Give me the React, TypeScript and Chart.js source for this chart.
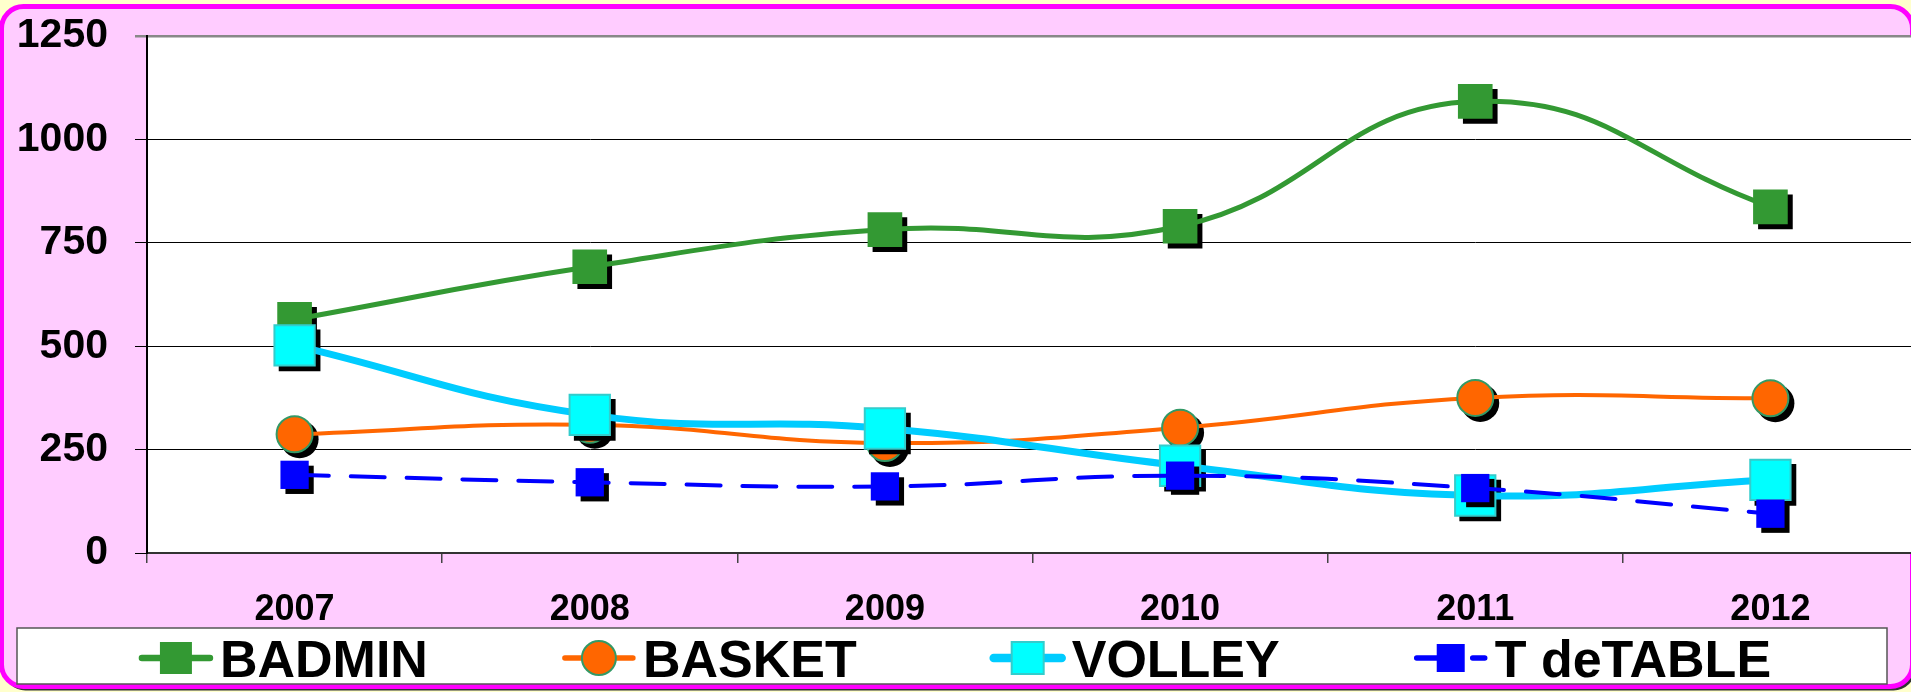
import React, { useEffect, useRef } from "react";
import { Chart, registerables } from "chart.js";

Chart.register(...registerables);

const categories = ["2007", "2008", "2009", "2010", "2011", "2012"];
const badmin = [565, 692, 782, 790, 1092, 837];
const basket = [287, 310, 266, 303, 375, 374];
const volley = [502, 334, 301, 211, 139, 177];
const tdetable = [189, 171, 161, 187, 157, 95];
const seriesLabels = ["BADMIN", "BASKET", "VOLLEY", "T deTABLE"];
const yMin = 0;
const yMax = 1250;
const yStep = 250;

const FONT = "'Liberation Sans', Arial, sans-serif";

function roundRect(ctx: CanvasRenderingContext2D, x: number, y: number, w: number, h: number, r: number) {
  ctx.beginPath();
  ctx.moveTo(x + r, y);
  ctx.lineTo(x + w - r, y);
  ctx.arcTo(x + w, y, x + w, y + r, r);
  ctx.lineTo(x + w, y + h - r);
  ctx.arcTo(x + w, y + h, x + w - r, y + h, r);
  ctx.lineTo(x + r, y + h);
  ctx.arcTo(x, y + h, x, y + h - r, r);
  ctx.lineTo(x, y + r);
  ctx.arcTo(x, y, x + r, y, r);
  ctx.closePath();
}

const backgroundPlugin = {
  id: "bgFrame",
  beforeDraw(chart: any) {
    const ctx = chart.ctx as CanvasRenderingContext2D;
    const { width, height, chartArea } = chart;
    ctx.save();
    ctx.fillStyle = "#FFFFCC";
    ctx.fillRect(0, 0, width, height);
    roundRect(ctx, 3.5, 8.5, 1912, 682, 22);
    ctx.fillStyle = "#333333";
    ctx.fill();
    roundRect(ctx, 1.5, 6.5, 1911, 680, 22);
    ctx.fillStyle = "#FFCCFF";
    ctx.fill();
    ctx.lineWidth = 5;
    ctx.strokeStyle = "#FF00FF";
    ctx.stroke();
    ctx.fillStyle = "#FFFFFF";
    ctx.fillRect(chartArea.left, chartArea.top, chartArea.right - chartArea.left, chartArea.bottom - chartArea.top);
    ctx.restore();
  },
};

function drawMarker(ctx: CanvasRenderingContext2D, style: string, x: number, y: number, r: number) {
  ctx.beginPath();
  if (style === "circle") {
    ctx.arc(x, y, r, 0, Math.PI * 2);
  } else {
    const s = Math.SQRT1_2 * r;
    ctx.rect(x - s, y - s, 2 * s, 2 * s);
  }
}

const shadowPlugin = {
  id: "markerShadow",
  beforeDatasetDraw(chart: any, args: any) {
    const ctx = chart.ctx as CanvasRenderingContext2D;
    const ds = chart.data.datasets[args.index];
    const meta = args.meta;
    ctx.save();
    ctx.fillStyle = "#000000";
    meta.data.forEach((pt: any) => {
      drawMarker(ctx, ds.pointStyle, pt.x + 5, pt.y + 5, ds.pointRadius + (ds.pointBorderWidth || 0) / 2);
      ctx.fill();
    });
    ctx.restore();
  },
};

const legendPlugin = {
  id: "customLegend",
  afterDraw(chart: any) {
    const ctx = chart.ctx as CanvasRenderingContext2D;
    const datasets = chart.data.datasets;
    ctx.save();
    ctx.fillStyle = "#FFFFFF";
    ctx.fillRect(17, 628, 1870, 56);
    ctx.lineWidth = 1.5;
    ctx.strokeStyle = "#555555";
    ctx.strokeRect(17, 628, 1870, 56);

    ctx.font = `bold 52px ${FONT}`;
    const graphicW = 74;
    const textGap = 7;
    const itemGap = 134;
    const widths = datasets.map((d: any) => ctx.measureText(d.label).width);
    const total =
      widths.reduce((a: number, b: number) => a + b, 0) + datasets.length * (graphicW + textGap) + (datasets.length - 1) * itemGap;
    let x = 955 - total / 2;
    const cy = 658;
    datasets.forEach((d: any, i: number) => {
      ctx.save();
      ctx.beginPath();
      ctx.strokeStyle = d.borderColor;
      ctx.lineWidth = d.borderWidth + 1.5;
      ctx.lineCap = "round";
      if (d.borderDash) ctx.setLineDash(d.borderDash);
      ctx.moveTo(x + 3, cy);
      ctx.lineTo(x + graphicW - 3, cy);
      ctx.stroke();
      ctx.restore();
      const mx = x + graphicW / 2;
      const r = d.legendMarkerSize / 2;
      ctx.beginPath();
      if (d.pointStyle === "circle") ctx.arc(mx, cy, r, 0, Math.PI * 2);
      else ctx.rect(mx - r, cy - r, 2 * r, 2 * r);
      ctx.fillStyle = d.pointBackgroundColor;
      ctx.fill();
      if (d.pointBorderWidth) {
        ctx.lineWidth = d.pointBorderWidth;
        ctx.strokeStyle = d.pointBorderColor;
        ctx.stroke();
      }
      ctx.fillStyle = "#000000";
      ctx.textAlign = "left";
      ctx.textBaseline = "alphabetic";
      ctx.fillText(d.label, x + graphicW + textGap, 677);
      x += graphicW + textGap + widths[i] + itemGap;
    });
    ctx.restore();
  },
};

export default function App() {
  const canvasRef = useRef<HTMLCanvasElement | null>(null);

  useEffect(() => {
    const canvas = canvasRef.current;
    if (!canvas) return;
    const chart = new Chart(canvas, {
      type: "line",
      data: {
        labels: categories,
        datasets: [
          {
            label: seriesLabels[0],
            data: badmin,
            borderColor: "#339933",
            borderWidth: 5,
            pointStyle: "rect",
            pointRadius: 24.5,
            pointBackgroundColor: "#339933",
            pointBorderColor: "#339933",
            pointBorderWidth: 0,
            tension: 0.45,
            order: 4,
            legendMarkerSize: 32,
          } as any,
          {
            label: seriesLabels[1],
            data: basket,
            borderColor: "#FF6600",
            borderWidth: 4,
            pointStyle: "circle",
            pointRadius: 18,
            pointBackgroundColor: "#FF6600",
            pointBorderColor: "#339966",
            pointBorderWidth: 2,
            tension: 0.45,
            order: 3,
            legendMarkerSize: 34,
          } as any,
          {
            label: seriesLabels[2],
            data: volley,
            borderColor: "#00CCFF",
            borderWidth: 7,
            pointStyle: "rect",
            pointRadius: 28.5,
            pointBackgroundColor: "#00FFFF",
            pointBorderColor: "#33CCCC",
            pointBorderWidth: 2,
            tension: 0.45,
            order: 2,
            legendMarkerSize: 32,
          } as any,
          {
            label: seriesLabels[3],
            data: tdetable,
            borderColor: "#0000FF",
            borderWidth: 4,
            borderDash: [34, 22],
            borderCapStyle: "round",
            pointStyle: "rect",
            pointRadius: 20,
            pointBackgroundColor: "#0000FF",
            pointBorderColor: "#0000FF",
            pointBorderWidth: 0,
            tension: 0.45,
            order: 1,
            legendMarkerSize: 28,
          } as any,
        ],
      },
      options: {
        responsive: false,
        animation: false,
        devicePixelRatio: 1,
        layout: { autoPadding: false, padding: { top: 36, left: 0, right: 0, bottom: 0 } },
        plugins: {
          legend: { display: false },
          tooltip: { enabled: false },
          title: { display: false },
        },
        scales: {
          x: {
            type: "category",
            offset: true,
            afterFit(scale: any) {
              scale.height = 692 - 553;
              scale.paddingLeft = 0;
              scale.paddingRight = 0;
            },
            grid: {
              offset: true,
              drawOnChartArea: false,
              drawTicks: true,
              tickLength: 10,
              color: "#444444",
              lineWidth: 1.5,
            },
            border: { display: true, color: "#333333", width: 2 },
            ticks: {
              color: "#000000",
              font: { family: FONT, size: 36, weight: "bold", lineHeight: 1 },
              padding: 29,
              maxRotation: 0,
              autoSkip: false,
            },
          },
          y: {
            min: yMin,
            max: yMax,
            afterFit(scale: any) {
              scale.width = 147;
              scale.paddingTop = 0;
              scale.paddingBottom = 0;
            },
            grid: {
              color: (c: any) => (c.tick && c.tick.value === yMax ? "#888888" : "#000000"),
              lineWidth: (c: any) => (c.tick && c.tick.value === yMax ? 2.5 : 1),
              drawTicks: true,
              tickLength: 12,
            },
            border: { display: true, color: "#000000", width: 2 },
            ticks: {
              stepSize: yStep,
              color: "#000000",
              font: { family: FONT, size: 41, weight: "bold" },
              padding: 27,
              callback: (v: any) => String(v),
            },
          },
        },
      },
      plugins: [backgroundPlugin, shadowPlugin, legendPlugin],
    } as any);
    return () => chart.destroy();
  }, []);

  return (
    <div
      style={{
        position: "fixed",
        left: 0,
        top: 0,
        width: 1911,
        height: 692,
        overflow: "hidden",
        background: "#FFFFCC",
      }}
    >
      <canvas ref={canvasRef} width={1918} height={692} style={{ display: "block" }} />
    </div>
  );
}
